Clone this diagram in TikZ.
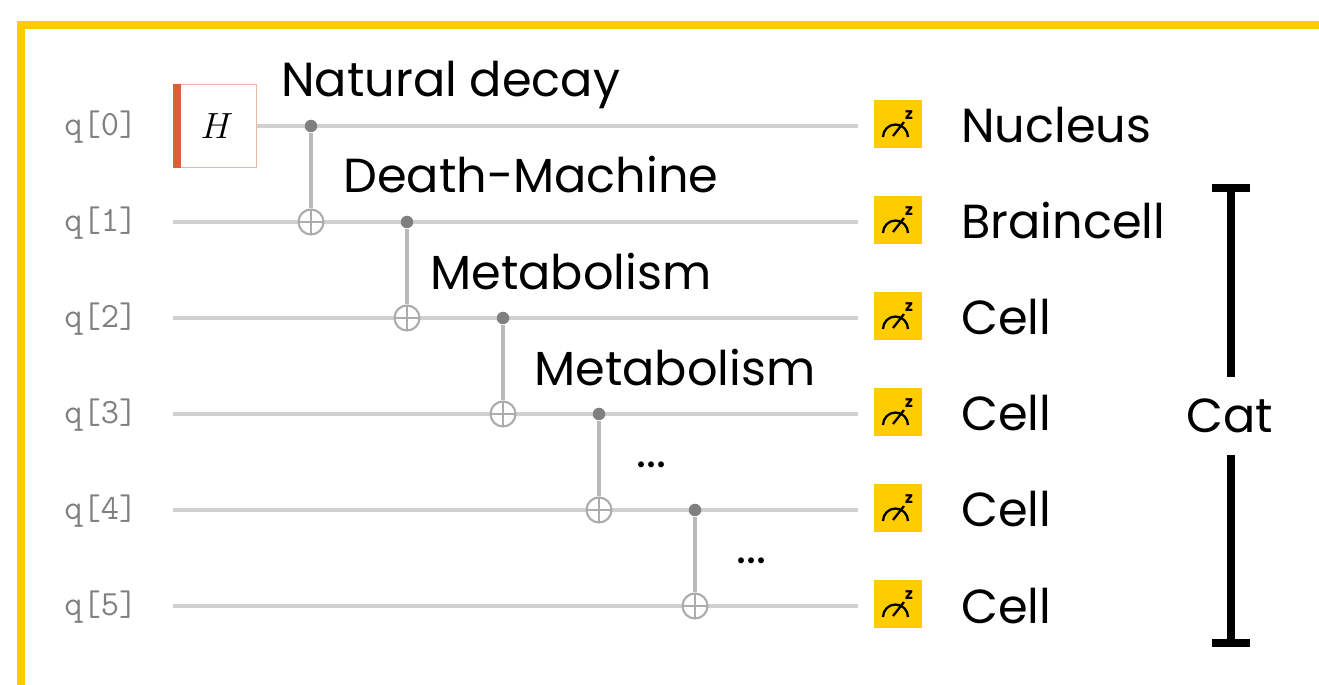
\documentclass[tikz,border=0pt]{standalone}
\usepackage{fontspec}
\setmainfont{Poppins}
\usepackage{amsmath}
\usepackage{tikz}
\usetikzlibrary{arrows.meta}
\definecolor{frameyellow}{HTML}{FFCC00}
\definecolor{gateorange}{HTML}{D4623A}
\tikzset{
  wire/.style={color=gray!36!white,line width=2pt},
  link/.style={color=gray!55!white,line width=2pt},
  wirelabel/.style={font=\ttfamily\fontsize{20.2}{20}\selectfont,color=gray,inner sep=0pt,anchor=base west},
  gatelabel/.style={font=\fontsize{27.2}{27}\selectfont,inner sep=0pt,anchor=base west},
  ctrl/.style={circle,fill=gray,inner sep=0pt,minimum size=0.25cm},
  target/.style={circle,draw=gray!65!white,line width=1.2pt,fill=white,inner sep=0pt,minimum size=0.5cm,
    path picture={\draw[gray!65!white,line width=1.2pt]
      (path picture bounding box.north) -- (path picture bounding box.south)
      (path picture bounding box.west) -- (path picture bounding box.east);}},
  meter/.style={fill=frameyellow,inner sep=0pt,minimum size=0.96cm},
}
\begin{document}
\begin{tikzpicture}[x=0.02cm,y=-0.02cm]
  \useasboundingbox (0,0) rectangle (1319,685);
  \draw[frameyellow,line width=4.55pt] (21,685) -- (21,25) -- (1319,25);
  % gate on the first wire
  \node[draw=gateorange!45!white,line width=0.9pt,minimum size=1.66cm,inner sep=0pt] (hgate) at (215,126)
    {\hspace*{0.08cm}\fontsize{21}{21}\selectfont $H$};
  \fill[gateorange] (hgate.north west) rectangle ([xshift=0.16cm]hgate.south west);
  % wires, meters and their labels
  \foreach \i/\ypos/\name in {0/126/Nucleus,1/222/Braincell,2/318/Cell,3/414/Cell,4/510/Cell,5/606/Cell} {
    \node[wirelabel] (label\i) at (64,\ypos+10) {q[\i]};
    \coordinate (start\i) at (173,\ypos);
    \coordinate (stop\i) at (858,\ypos);
    \node[meter] (meter\i) at (898,\ypos-2) {};
    \draw[line width=1.3pt] (883,\ypos+11) arc [start angle=180, end angle=360, radius=12.5];
    \draw[line width=1.3pt] (893,\ypos+10) -- (904,\ypos-4);
    \node[inner sep=0pt,font=\bfseries\fontsize{9}{9}\selectfont] (zlabel\i) at (909,\ypos-11) {z};
    \node[gatelabel] (name\i) at (961,\ypos+17) {\name};
  }
  \draw[wire] (hgate) -- (stop0);
  \foreach \i in {1,...,5}
    \draw[wire] (start\i) -- (stop\i);
  % controlled gates
  \foreach \i/\j/\xpos/\yc/\yt in {0/1/311/126/222,1/2/407/222/318,2/3/503/318/414,3/4/599/414/510,4/5/695/510/606} {
    \node[ctrl] (ctrl\i) at (\xpos,\yc) {};
    \node[target] (target\j) at (\xpos,\yt) {};
    \draw[link] (ctrl\i) -- (target\j);
  }
  \node[gatelabel] (decay) at (281,97) {Natural decay};
  \node[gatelabel] (machine) at (343,193) {Death-Machine};
  \node[gatelabel] (metaA) at (430,290) {Metabolism};
  \node[gatelabel] (metaB) at (534,386) {Metabolism};
  \node[gatelabel] (dotsA) at (636,468) {...};
  \node[gatelabel] (dotsB) at (736,564) {...};
  % bracket
  \node[gatelabel,anchor=center] (cat) at (1230,416) {Cat};
  \coordinate (cattop) at (1231,184);
  \coordinate (catbottom) at (1231,647);
  \draw[line width=4.55pt,-{Bar[width=0.76cm,length=4.55pt]}] (1231,377) -- (cattop);
  \draw[line width=4.55pt,-{Bar[width=0.76cm,length=4.55pt]}] (1231,455) -- (catbottom);
\end{tikzpicture}
\end{document}
